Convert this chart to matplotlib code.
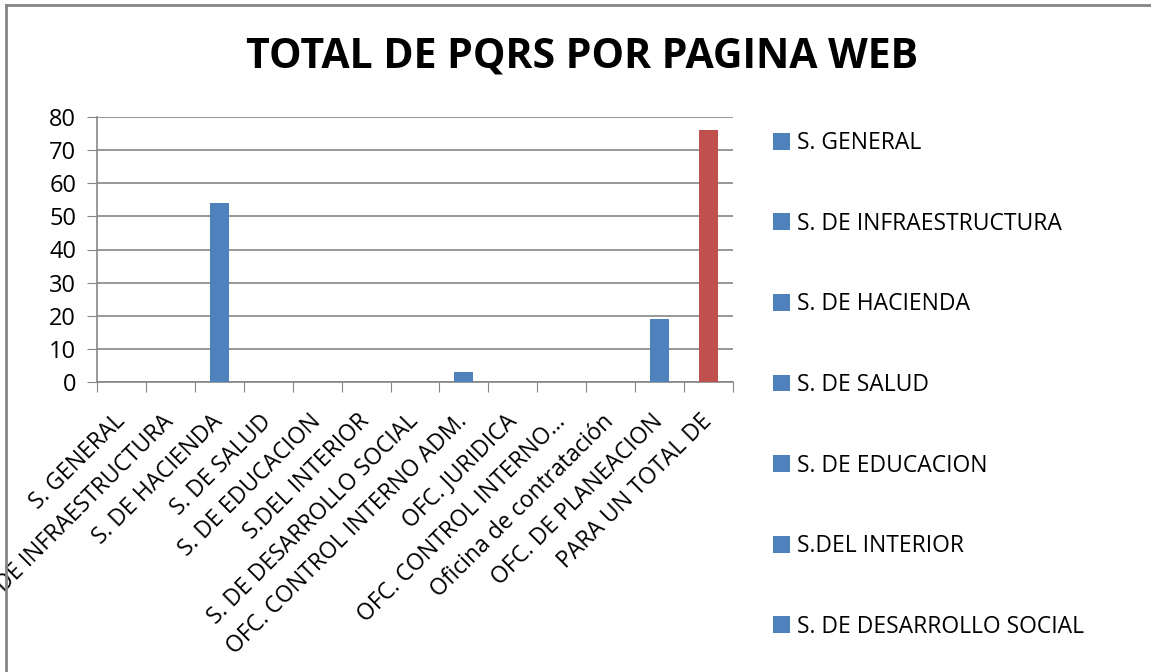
import numpy as np
from matplotlib import pyplot as plt
from matplotlib.patches import Patch
from matplotlib.lines import Line2D

categories = ['S. GENERAL', 'S. DE INFRAESTRUCTURA', 'S. DE HACIENDA', 'S. DE SALUD',
              'S. DE EDUCACION', 'S.DEL INTERIOR', 'S. DE DESARROLLO SOCIAL',
              'OFC. CONTROL INTERNO ADM.', 'OFC. JURIDICA', 'OFC. CONTROL INTERNO…',
              'Oficina de contratación', 'OFC. DE PLANEACION', 'PARA UN TOTAL DE']
values = [0, 0, 54, 0, 0, 0, 0, 3, 0, 0, 0, 19, 76]
legend_shown = categories[:7]

blue = '#4F81BD'
red = '#C0504D'
gray = '#868686'

plt.rcParams['font.family'] = ['Open Sans', 'DejaVu Sans']

fig = plt.figure(figsize=(11.51, 6.72), dpi=100)
ax = fig.add_axes([97 / 1151, 1 - 382 / 672, (733 - 97) / 1151, (382 - 117) / 672])

x = np.arange(len(categories))
colors = [blue] * (len(categories) - 1) + [red]
ax.bar(x, values, width=0.39, color=colors, zorder=3)

ax.set_xlim(-0.5, len(categories) - 0.5)
ax.set_ylim(0, 80)
ax.set_yticks(range(0, 81, 10))
ax.tick_params(axis='y', labelsize=17, length=7, color=gray, pad=8)
ax.grid(axis='y', color=gray, linewidth=1.2, zorder=0)

ax.set_xticks(np.arange(len(categories) + 1) - 0.5, minor=False)
ax.set_xticklabels([])
ax.set_xticks(x, minor=True)
ax.set_xticklabels(categories, minor=True, rotation=45, ha='right', va='center',
                   rotation_mode='anchor', fontsize=16.5)
ax.tick_params(axis='x', which='major', length=7, color=gray)
ax.tick_params(axis='x', which='minor', length=0, pad=26)

for side in ['top', 'right']:
  ax.spines[side].set_visible(False)
for side in ['left', 'bottom']:
  ax.spines[side].set_color(gray)
  ax.spines[side].set_linewidth(1.2)

fig.text(582 / 1151, 1 - 57 / 672, 'TOTAL DE PQRS POR PAGINA WEB', ha='center', va='center',
         fontsize=29.5, fontweight='bold')

handles = [Patch(facecolor=blue, edgecolor='none') for _ in legend_shown]
fig.legend(handles, legend_shown, loc='upper left', bbox_to_anchor=(764 / 1151, 1 - 122 / 672),
           frameon=False, fontsize=16.5, labelspacing=2.47, handlelength=0.75, handleheight=0.75,
           handletextpad=0.3, borderaxespad=0)

# chart border
fig.add_artist(Line2D([6 / 1151, 6 / 1151], [0, 1 - 5 / 672], transform=fig.transFigure, color=gray, linewidth=2))
fig.add_artist(Line2D([6 / 1151, 1], [1 - 5 / 672, 1 - 5 / 672], transform=fig.transFigure, color=gray, linewidth=2))

fig.savefig('out.png', dpi=100)
